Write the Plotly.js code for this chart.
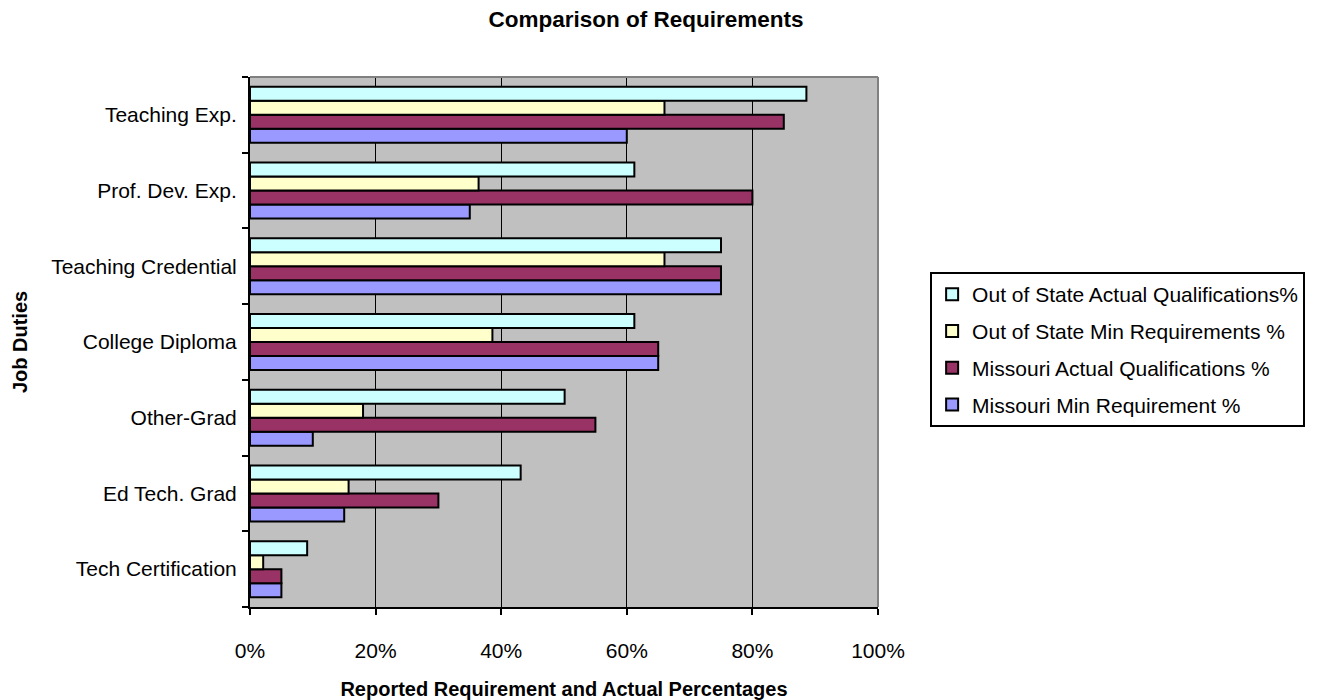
<!DOCTYPE html>
<html>
<head>
<meta charset="utf-8">
<script src="https://cdn.plot.ly/plotly-3.0.1.min.js"></script>
<style>html,body{margin:0;padding:0;background:#fff;}#chart{width:1317px;height:700px;}</style>
</head>
<body>
<div id="chart"></div>
<script>
const categories = ["Tech Certification", "Ed Tech. Grad", "Other-Grad", "College Diploma", "Teaching Credential", "Prof. Dev. Exp.", "Teaching Exp."];
const missouriMin = [5, 15, 10, 65, 75, 35, 60];
const missouriActual = [5, 30, 55, 65, 75, 80, 85];
const outStateMin = [2.1, 15.7, 18, 38.6, 66, 36.4, 66];
const outStateActual = [9.1, 43.1, 50.1, 61.2, 75, 61.2, 88.6];
const xTicks = [0, 20, 40, 60, 80, 100];

const seriesNames = ["Missouri Min Requirement %", "Missouri Actual Qualifications %", "Out of State Min Requirements %", "Out of State Actual Qualifications%"];
const seriesData = [missouriMin, missouriActual, outStateMin, outStateActual];
const seriesColors = ["#9999FF", "#993366", "#FFFFCC", "#CCFFFF"];

const FONT = "Liberation Sans, Arial, sans-serif";
const traces = seriesData.map((vals, i) => ({
  type: "bar",
  orientation: "h",
  name: seriesNames[i],
  y: categories,
  x: vals,
  legendgroup: "g" + i,
  legendrank: seriesData.length - i,
  marker: {color: seriesColors[i], line: {color: "#000", width: 2}},
  hoverinfo: "x+y"
}));

const layout = {
  width: 1317, height: 700,
  margin: {l: 250, r: 437, t: 77, b: 93},
  paper_bgcolor: "#fff",
  plot_bgcolor: "#C0C0C0",
  barmode: "group",
  bargap: 0.26,
  bargroupgap: 0,
  font: {family: FONT, size: 21, color: "#000"},
  title: {text: "<b>Comparison of Requirements</b>", font: {family: FONT, size: 22.5, color: "#000"}, x: 646 / 1317, xref: "container", xanchor: "center", y: 0.973, yanchor: "middle"},
  xaxis: {
    range: [0, 100], tickvals: xTicks, ticktext: xTicks.map(v => v + "%"),
    showgrid: true, gridcolor: "#000", gridwidth: 1,
    zeroline: false,
    showline: true, linecolor: "#000", linewidth: 2,
    ticks: "outside", ticklen: 6, tickcolor: "#000", tickwidth: 2,
    tickfont: {family: FONT, size: 21, color: "#000"},
    ticklabelstandoff: 18,
    fixedrange: true,
    title: {text: "<b>Reported Requirement and Actual Percentages</b>", font: {family: FONT, size: 20, color: "#000"}, standoff: 21}
  },
  yaxis: {
    type: "category", categoryorder: "array", categoryarray: categories,
    showgrid: false, zeroline: false,
    showline: true, linecolor: "#000", linewidth: 2,
    ticks: "outside", ticklen: 6, tickcolor: "#000", tickwidth: 2,
    tickson: "boundaries",
    tickfont: {family: FONT, size: 21, color: "#000"},
    ticklabelstandoff: 7,
    fixedrange: true,
    title: {text: "<b>Job Duties</b>", font: {family: FONT, size: 20, color: "#000"}, standoff: 18}
  },
  legend: {
    x: 1.083, xanchor: "left", y: 0.632, yanchor: "top",
    bgcolor: "#fff", bordercolor: "#000", borderwidth: 2,
    traceorder: "grouped",
    tracegroupgap: 6.5,
    font: {family: FONT, size: 21, color: "#000"},
    itemwidth: 30
  },
  shapes: [
    {type: "line", xref: "paper", yref: "paper", x0: 0, x1: 1, y0: 1, y1: 1, line: {color: "#808080", width: 2}},
    {type: "line", xref: "paper", yref: "paper", x0: 1, x1: 1, y0: 0, y1: 1, line: {color: "#808080", width: 2}}
  ]
};

Plotly.newPlot("chart", traces, layout, {displayModeBar: false, staticPlot: true});
</script>
</body>
</html>
